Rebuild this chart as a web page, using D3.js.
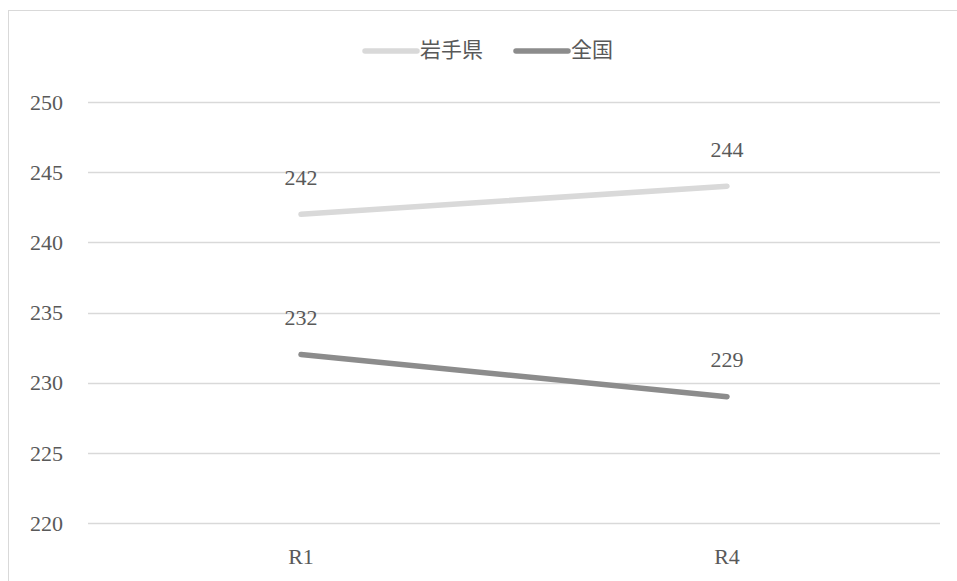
<!DOCTYPE html>
<html>
<head>
<meta charset="utf-8">
<script src="https://cdn.jsdelivr.net/npm/d3@7"></script>
<style>
  body { margin: 0; background: #fff; }
  text { font-family: "Liberation Serif", "Noto Sans CJK JP", serif; fill: #595959; }
</style>
</head>
<body>
<div id="chart"></div>
<script>
// data
const categories = ['R1', 'R4'];
const seriesNames = ['岩手県', '全国'];
const iwate = [242, 244];
const national = [232, 229];
const yTicks = [220, 225, 230, 235, 240, 245, 250];

const width = 957, height = 581;
const margin = {left: 88, right: 17, top: 102, bottom: 58};

const svg = d3.select('#chart').append('svg')
  .attr('width', width)
  .attr('height', height);

// outer frame (right and bottom edges fall outside the window)
svg.append('rect')
  .attr('x', 8.5).attr('y', 10.5)
  .attr('width', 980).attr('height', 600)
  .attr('fill', 'none')
  .attr('stroke', '#d9d9d9');

const x = d3.scaleBand()
  .domain(categories)
  .range([margin.left, width - margin.right]);

const y = d3.scaleLinear()
  .domain([220, 250])
  .range([height - margin.bottom, margin.top]);

// gridlines
svg.append('g')
  .selectAll('line')
  .data(yTicks)
  .enter()
  .append('line')
  .attr('x1', margin.left)
  .attr('x2', width - margin.right)
  .attr('y1', d => Math.round(y(d)) + 0.5)
  .attr('y2', d => Math.round(y(d)) + 0.5)
  .attr('stroke', '#d9d9d9')
  .attr('stroke-width', 1.3);

// y labels
svg.append('g')
  .selectAll('text')
  .data(yTicks)
  .enter()
  .append('text')
  .attr('x', 63)
  .attr('y', d => y(d))
  .attr('dy', '0.35em')
  .attr('text-anchor', 'end')
  .style('font-size', '22px')
  .text(d => d);

// x labels
svg.append('g')
  .selectAll('text')
  .data(categories)
  .enter()
  .append('text')
  .attr('x', d => x(d) + x.bandwidth() / 2)
  .attr('y', height - margin.bottom + 33)
  .attr('dy', '0.35em')
  .attr('text-anchor', 'middle')
  .style('font-size', '22px')
  .text(d => d);

const series = [
  {name: seriesNames[0], values: iwate, color: '#d9d9d9'},
  {name: seriesNames[1], values: national, color: '#8c8c8c'}
];

const line = d3.line()
  .x((d, i) => x(categories[i]) + x.bandwidth() / 2)
  .y(d => y(d));

series.forEach(s => {
  svg.append('path')
    .datum(s.values)
    .attr('d', line)
    .attr('fill', 'none')
    .attr('stroke', s.color)
    .attr('stroke-width', 5.5)
    .attr('stroke-linecap', 'round');

  svg.append('g')
    .selectAll('text')
    .data(s.values)
    .enter()
    .append('text')
    .attr('x', (d, i) => x(categories[i]) + x.bandwidth() / 2)
    .attr('y', d => y(d) - 37)
    .attr('dy', '0.35em')
    .attr('text-anchor', 'middle')
    .style('font-size', '22px')
    .text(d => d);
});

// legend
const legendItems = [
  {x: 362, color: '#d9d9d9', name: seriesNames[0]},
  {x: 513, color: '#8c8c8c', name: seriesNames[1]}
];
const legend = svg.append('g');
legendItems.forEach(l => {
  legend.append('line')
    .attr('x1', l.x + 3).attr('x2', l.x + 55)
    .attr('y1', 51).attr('y2', 51)
    .attr('stroke', l.color)
    .attr('stroke-width', 5.5)
    .attr('stroke-linecap', 'round');
  legend.append('text')
    .attr('x', l.x + 58)
    .attr('y', 50)
    .attr('dy', '0.35em')
    .style('font-size', '21px')
    .text(l.name);
});
</script>
</body>
</html>
